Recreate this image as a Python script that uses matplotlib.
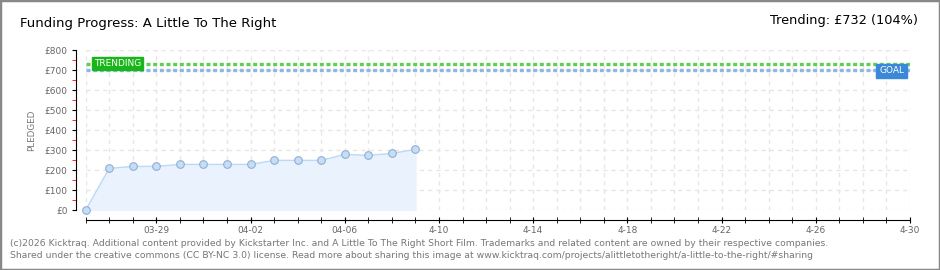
import matplotlib
matplotlib.use("Agg")
import matplotlib.pyplot as plt
import numpy as np
from matplotlib.patches import Rectangle

# datos del gráfico
dias = list(range(15))  # días desde 03-26
pledged = [0, 208, 218, 218, 228, 228, 228, 228, 248, 248, 248, 278, 273, 283, 303]
total_dias = 35
goal = 700
trending = 732
tick_dias = [3, 7, 11, 15, 19, 23, 27, 31, 35]
tick_labels = ["03-29", "04-02", "04-06", "4-10", "4-14", "4-18", "4-22", "4-26", "4-30"]
y_ticks = [0, 100, 200, 300, 400, 500, 600, 700, 800]

W, H = 940, 270
fig = plt.figure(figsize=(W / 100, H / 100), dpi=100)

# borde exterior
fig.patches.append(Rectangle((0, 0), 1, 1, transform=fig.transFigure,
                             fill=False, edgecolor="#888888", linewidth=2.5))

ax = fig.add_axes([85.7 / W, (H - 210) / H, (910 - 85.7) / W, 160 / H])
ax.set_xlim(0, total_dias)
ax.set_ylim(0, 800)

# rejilla
for d in range(total_dias + 1):
    ax.axvline(d, color="#e6e6e6", linestyle=(0, (3, 3)), linewidth=1, zorder=0)
for v in y_ticks:
    ax.axhline(v, color="#e6e6e6", linestyle=(0, (3, 3)), linewidth=1, zorder=0)

# área y línea
ax.fill_between(dias, pledged, color="#eaf3fd", zorder=1)
ax.plot(dias, pledged, color="#bcd9f6", linewidth=1, zorder=2)
ax.plot(dias, pledged, "o", markersize=5.5, markerfacecolor="#c4def8",
        markeredgecolor="#92aed0", markeredgewidth=0.8, zorder=3, clip_on=False)

# líneas de meta y tendencia
ax.axhline(trending, color="#5fcf4f", linestyle=(0, (1.2, 0.8)), linewidth=2.4, zorder=2)
ax.axhline(goal, color="#8fb6e2", linestyle=(0, (1.2, 0.8)), linewidth=2.4, zorder=2)

ax.text(0.35, trending, "TRENDING", fontsize=6.5, color="white", ha="left", va="center",
        bbox=dict(boxstyle="square,pad=0.25", facecolor="#1ab51a", edgecolor="#1ab51a"), zorder=4)
ax.text(34.75, goal - 4, "GOAL", fontsize=6.5, color="white", ha="right", va="center",
        bbox=dict(boxstyle="square,pad=0.3", facecolor="#3b88d8", edgecolor="#3b88d8"), zorder=4)

# ejes
for s in ["top", "right"]:
    ax.spines[s].set_visible(False)
ax.spines["left"].set_position(("outward", 7))
ax.spines["bottom"].set_position(("outward", 7))
ax.spines["left"].set_color("black")
ax.spines["bottom"].set_color("black")

ax.set_yticks(y_ticks)
ax.set_yticklabels([f"£{v}" for v in y_ticks], fontsize=6.5, color="#666666")
ax.set_yticks(range(50, 800, 100), minor=True)
ax.tick_params(axis="y", which="major", length=3, direction="out", color="black", pad=3)
ax.tick_params(axis="y", which="minor", length=3, direction="out", color="red")

ax.set_xticks(range(total_dias + 1), minor=True)
ax.set_xticks(tick_dias)
ax.set_xticklabels(tick_labels, fontsize=6.5, color="#666666")
ax.tick_params(axis="x", which="both", length=5, direction="inout", color="black", pad=2)

ax.set_ylabel("PLEDGED", fontsize=6.3, color="#777777", labelpad=6)

# títulos
fig.text(20 / W, 1 - 23 / H, "Funding Progress: A Little To The Right",
         fontsize=9.5, ha="left", va="center")
fig.text(918 / W, 1 - 21 / H, "Trending: £732 (104%)",
         fontsize=9.3, ha="right", va="center")

# pie
pie1 = ("(c)2026 Kicktraq. Additional content provided by Kickstarter Inc. and A Little To The Right "
        "Short Film. Trademarks and related content are owned by their respective companies.")
pie2 = ("Shared under the creative commons (CC BY-NC 3.0) license. Read more about sharing this image at "
        "www.kicktraq.com/projects/alittletotheright/a-little-to-the-right/#sharing")
fig.text(10 / W, 1 - 243 / H, pie1, fontsize=6.7, color="#777777", ha="left", va="center")
fig.text(10 / W, 1 - 255 / H, pie2, fontsize=6.7, color="#777777", ha="left", va="center")

fig.savefig("out.png", dpi=100)
